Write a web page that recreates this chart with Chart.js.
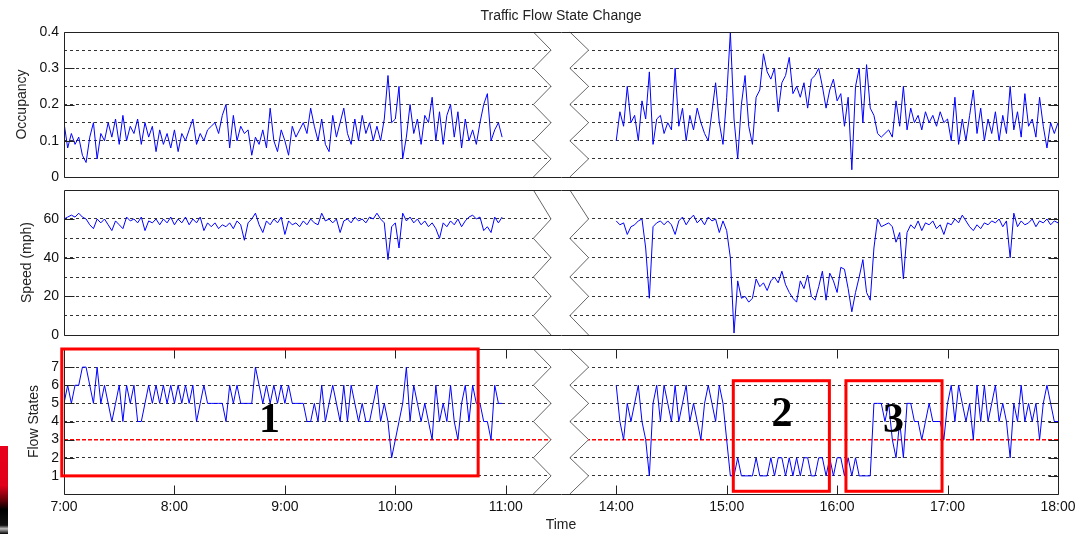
<!DOCTYPE html>
<html lang="en">
  <head>
    <meta charset="UTF-8" />
    <title>Traffic Flow State Change</title>
    <script src="https://cdn.jsdelivr.net/npm/chart.js"></script>
    <style>
      body { margin: 0; background: #fff; }
      .figure { position: relative; width: 1075px; height: 534px; overflow: hidden; }
      .figure canvas { position: absolute; left: 0; }
      .edge-strip {
        position: absolute; left: 0; top: 446px; width: 8px; height: 88px;
        background: linear-gradient(#e8001c 0%, #e0001a 45%, #600008 62%, #000 72%, #111 90%, #bbb 94%, #000 100%);
      }
    </style>
  </head>
  <body>
    <div class="figure">
      <div class="edge-strip"></div>
      <canvas id="occupancyChart" width="1075" height="187" style="top: 0px"></canvas>
      <canvas id="speedChart" width="1075" height="165" style="top: 180px"></canvas>
      <canvas id="flowChart" width="1075" height="195" style="top: 339px"></canvas>
    </div>

    <script>
      // Time axis: 7:00-11:00 and 14:00-18:00, the lunch gap squeezed into one hour
      const hourLabels = ["7:00", "8:00", "9:00", "10:00", "11:00", "14:00", "15:00", "16:00", "17:00", "18:00"];
      const amStart = 7 * 60;
      const pmStart = 14 * 60;
      const stepMinutes = 2;

      // Occupancy (fraction), one sample every 2 minutes
      const occupancyAm = [
        0.15, 0.08, 0.12, 0.09, 0.11, 0.06, 0.04, 0.11, 0.15, 0.05,
        0.12, 0.10, 0.15, 0.11, 0.16, 0.09, 0.17, 0.10, 0.14, 0.12,
        0.16, 0.09, 0.15, 0.11, 0.14, 0.07, 0.13, 0.09, 0.12, 0.08,
        0.13, 0.07, 0.12, 0.10, 0.13, 0.16, 0.09, 0.12, 0.10, 0.13,
        0.14, 0.15, 0.12, 0.17, 0.20, 0.08, 0.17, 0.10, 0.14, 0.12,
        0.13, 0.06, 0.11, 0.09, 0.13, 0.08, 0.19, 0.10, 0.07, 0.13,
        0.10, 0.06, 0.14, 0.11, 0.13, 0.15, 0.12, 0.19, 0.14, 0.10,
        0.16, 0.09, 0.07, 0.17, 0.11, 0.15, 0.19, 0.12, 0.09, 0.16,
        0.10, 0.17, 0.12, 0.15, 0.10, 0.14, 0.10, 0.16, 0.28, 0.15,
        0.16, 0.25, 0.05, 0.11, 0.20, 0.12, 0.16, 0.09, 0.17, 0.15,
        0.22, 0.10, 0.18, 0.09, 0.17, 0.20, 0.11, 0.18, 0.08, 0.16,
        0.10, 0.13, 0.09, 0.15, 0.20, 0.23, 0.10, 0.13, 0.15, 0.11,
      ];
      const occupancyPm = [
        0.10, 0.18, 0.14, 0.25, 0.15, 0.17, 0.10, 0.21, 0.16, 0.29,
        0.09, 0.16, 0.17, 0.12, 0.15, 0.13, 0.30, 0.14, 0.19, 0.10,
        0.17, 0.13, 0.19, 0.15, 0.12, 0.10, 0.18, 0.26, 0.15, 0.09,
        0.22, 0.40, 0.16, 0.05, 0.20, 0.28, 0.14, 0.09, 0.22, 0.24,
        0.34, 0.29, 0.27, 0.30, 0.18, 0.26, 0.28, 0.33, 0.23, 0.25,
        0.22, 0.26, 0.19, 0.27, 0.28, 0.30, 0.25, 0.19, 0.24, 0.27,
        0.21, 0.23, 0.14, 0.22, 0.02, 0.25, 0.30, 0.15, 0.31, 0.19,
        0.17, 0.12, 0.11, 0.12, 0.13, 0.11, 0.21, 0.14, 0.25, 0.13,
        0.19, 0.15, 0.17, 0.13, 0.18, 0.15, 0.17, 0.14, 0.18, 0.15,
        0.16, 0.10, 0.22, 0.09, 0.16, 0.10, 0.17, 0.24, 0.12, 0.19,
        0.10, 0.16, 0.12, 0.18, 0.10, 0.17, 0.12, 0.25, 0.13, 0.18,
        0.11, 0.23, 0.14, 0.16, 0.11, 0.22, 0.14, 0.08, 0.15, 0.12,
        0.15,
      ];

      // Speed (mph)
      const speedAm = [
        60, 61, 62, 61, 63, 61, 60, 57, 55, 60,
        58, 60, 57, 54, 59, 57, 55, 61, 59, 60,
        58, 61, 54, 59, 58, 60, 57, 60, 58, 61,
        57, 60, 58, 61, 57, 60, 58, 61, 54, 58,
        56, 58, 55, 57, 56, 58, 55, 59, 57, 49,
        58, 60, 63, 57, 53, 59, 57, 60, 58, 61,
        52, 59, 57, 58, 56, 59, 57, 60, 58, 57,
        63, 59, 60, 58, 60, 53, 59, 60, 58, 61,
        59, 60, 58, 61, 60, 63, 60, 58, 39, 56,
        58, 45, 63, 59, 61, 58, 60, 57, 59, 56,
        58, 55, 50, 58, 56, 59, 57, 60, 56, 59,
        61, 62, 60, 61, 54, 56, 53, 61, 58, 61,
      ];
      const speedPm = [
        59, 57, 58, 52, 56, 57, 59, 60, 45, 19,
        56, 58, 59, 57, 59, 57, 52, 59, 61, 57,
        60, 62, 58, 60, 57, 61, 59, 60, 53, 59,
        54, 40, 1, 28, 19, 20, 17, 19, 29, 25,
        27, 23, 28, 30, 27, 33, 26, 22, 19, 17,
        28, 24, 31, 20, 18, 25, 33, 18, 32, 28,
        22, 35, 34, 24, 12, 22, 30, 39, 22, 18,
        45, 60, 56, 57, 58, 56, 48, 53, 29, 53,
        57, 55, 59, 54, 58, 57, 59, 55, 57, 52,
        58, 57, 60, 58, 62, 59, 56, 54, 57, 55,
        58, 57, 59, 58, 60, 56, 59, 40, 63, 56,
        59, 57, 58, 60, 56, 59, 58, 60, 57, 59,
        58,
      ];

      // Flow state (1 = congested ... 7 = free flow)
      const flowAm = [
        5, 6, 5, 6, 6, 7, 7, 6, 5, 7,
        5, 6, 5, 4, 5, 6, 4, 6, 5, 6,
        4, 4, 5, 6, 5, 6, 5, 6, 5, 6,
        5, 6, 5, 6, 5, 6, 4, 5, 6, 5,
        5, 5, 5, 5, 4, 6, 5, 6, 5, 5,
        5, 5, 7, 6, 5, 6, 5, 6, 5, 6,
        5, 6, 5, 5, 5, 5, 4, 4, 5, 4,
        6, 4, 5, 6, 5, 4, 6, 4, 6, 5,
        4, 5, 4, 4, 5, 6, 4, 5, 4, 2,
        3, 4, 5, 7, 4, 6, 5, 4, 5, 4,
        3, 6, 4, 5, 4, 6, 4, 3, 5, 6,
        4, 6, 5, 5, 4, 4, 3, 6, 5, 5,
      ];
      const flowPm = [
        6, 4, 3, 5, 4, 5, 6, 4, 3, 1,
        5, 6, 4, 6, 5, 4, 6, 4, 5, 6,
        4, 5, 4, 3, 5, 6, 5, 4, 6, 5,
        3, 1, 1, 2, 1, 1, 1, 1, 2, 1,
        1, 1, 2, 1, 2, 2, 1, 2, 1, 2,
        1, 2, 2, 1, 1, 2, 2, 1, 2, 1,
        2, 2, 1, 2, 1, 2, 1, 1, 1, 1,
        5, 5, 5, 4, 5, 3, 2, 4, 2, 5,
        5, 4, 4, 3, 4, 5, 4, 4, 4, 3,
        5, 6, 4, 6, 5, 4, 5, 3, 6, 4,
        6, 4, 5, 6, 4, 5, 4, 2, 5, 4,
        6, 4, 5, 4, 5, 3, 5, 6, 5, 4,
        4,
      ];

      // Labelled y ticks of each panel
      const occupancyTicks = [0, 0.1, 0.2, 0.3, 0.4];
      const speedTicks = [0, 20, 40, 60];
      const flowTicks = [1, 2, 3, 4, 5, 6, 7];
      const flowThreshold = 3;

      // Boxed periods on the flow state panel (x in axis hours, y in states)
      const regions = [
        { label: "1", x0: -0.02, x1: 3.75, y0: 1, y1: 8, tx: 1.86, ty: 4.0 },
        { label: "2", x0: 6.06, x1: 6.93, y0: 0.15, y1: 6.25, tx: 6.5, ty: 4.35 },
        { label: "3", x0: 7.08, x1: 7.95, y0: 0.15, y1: 6.25, tx: 7.51, ty: 4.0 },
      ];

      // where the axis break marks sit (axis hours)
      const breakLeft = [4.25, 4.41];
      const breakRight = [4.58, 4.75];

      Chart.defaults.font.family = "'Liberation Sans', Arial, sans-serif";
      Chart.defaults.font.size = 14;
      Chart.defaults.color = "#111";

      function axisHour(minutes) {
        return minutes <= 11 * 60 ? (minutes - amStart) / 60 : (minutes - pmStart) / 60 + 5;
      }

      function toPoints(values, start) {
        return values.map((v, i) => ({ x: axisHour(start + i * stepMinutes), y: v }));
      }

      function sameValue(a, b) {
        return Math.abs(a - b) < 1e-9;
      }

      // MATLAB style box: axis break, frame, inward ticks, annotations
      const framePlugin = {
        id: "frame",
        afterDatasetsDraw(chart, args, opts) {
          const { ctx, chartArea: a, scales } = chart;
          const x = scales.x;
          const y = scales.y;
          const levels = y.ticks.map((t) => y.getPixelForValue(t.value)).sort((p, q) => p - q);
          const zig = (xs) => levels.map((py, k) => [x.getPixelForValue(xs[k % 2]), py]);
          const lz = zig(breakLeft);
          const rz = zig(breakRight);

          ctx.save();
          ctx.fillStyle = "#fff";
          ctx.beginPath();
          lz.forEach(([px, py], k) => (k ? ctx.lineTo(px, py) : ctx.moveTo(px, py)));
          rz.slice().reverse().forEach(([px, py]) => ctx.lineTo(px, py));
          ctx.closePath();
          ctx.fill();

          ctx.strokeStyle = "#666";
          ctx.lineWidth = 1;
          [lz, rz].forEach((z) => {
            ctx.beginPath();
            z.forEach(([px, py], k) => (k ? ctx.lineTo(px, py) : ctx.moveTo(px, py)));
            ctx.stroke();
          });

          const L = Math.round(a.left) + 0.5;
          const R = Math.round(a.right) + 0.5;
          const T = Math.round(a.top) + 0.5;
          const B = Math.round(a.bottom) + 0.5;
          ctx.strokeStyle = "#222";
          ctx.beginPath();
          ctx.rect(L, T, R - L, B - T);
          (opts.yTicks || []).forEach((v) => {
            const py = Math.round(y.getPixelForValue(v)) + 0.5;
            ctx.moveTo(L, py);
            ctx.lineTo(L + 10, py);
            ctx.moveTo(R - 10, py);
            ctx.lineTo(R, py);
          });
          if (opts.xTicks) {
            hourLabels.forEach((_, i) => {
              const px = Math.round(x.getPixelForValue(i)) + 0.5;
              ctx.moveTo(px, T);
              ctx.lineTo(px, T + 9);
              ctx.moveTo(px, B - 9);
              ctx.lineTo(px, B);
            });
          }
          ctx.stroke();

          (opts.regions || []).forEach((r) => {
            const x0 = x.getPixelForValue(r.x0);
            const x1 = x.getPixelForValue(r.x1);
            const y0 = y.getPixelForValue(r.y0);
            const y1 = y.getPixelForValue(r.y1);
            ctx.strokeStyle = "#ff0000";
            ctx.lineWidth = 3;
            ctx.strokeRect(x0, y1, x1 - x0, y0 - y1);
            ctx.fillStyle = "#000";
            ctx.font = "bold 42px 'Liberation Serif', 'DejaVu Serif', serif";
            ctx.textAlign = "center";
            ctx.textBaseline = "middle";
            ctx.fillText(r.label, x.getPixelForValue(r.tx), y.getPixelForValue(r.ty));
          });
          ctx.restore();
        },
      };

      function lineSet(data) {
        return {
          data,
          borderColor: "#0000ff",
          borderWidth: 1,
          pointRadius: 0,
          tension: 0,
          fill: false,
        };
      }

      // red dash line marking the congestion threshold, drawn behind the trace
      function thresholdSet(level) {
        return {
          data: [
            { x: 0, y: level },
            { x: hourLabels.length - 1, y: level },
          ],
          borderColor: "#ff0000",
          borderWidth: 1.5,
          borderDash: [4, 2],
          pointRadius: 0,
          fill: false,
        };
      }

      function makePanel(id, cfg) {
        const yScale = {
          min: cfg.min,
          max: cfg.max,
          afterFit: (s) => {
            s.width = 64;
            s.paddingTop = 0;
            s.paddingBottom = 0;
          },
          ticks: {
            stepSize: cfg.step,
            padding: 5,
            autoSkip: false,
            callback: (v) => {
              const hit = cfg.labels.find((t) => sameValue(t, v));
              return hit === undefined ? "" : String(hit);
            },
          },
          grid: {
            drawTicks: false,
            lineWidth: 1,
            color: (c) => {
              const v = c.tick ? c.tick.value : cfg.min;
              if (sameValue(v, cfg.min) || sameValue(v, cfg.max)) return "rgba(0,0,0,0)";
              if (cfg.threshold !== undefined && sameValue(v, cfg.threshold)) return "rgba(0,0,0,0)";
              return "#333";
            },
          },
          border: { display: false, dash: [3, 3] },
          title: {
            display: true,
            text: cfg.title,
            color: "#222",
            padding: { top: cfg.titleOffset, bottom: 0 },
          },
        };

        const xScale = {
          type: "linear",
          min: 0,
          max: 9,
          display: cfg.showTime,
          afterFit: (s) => {
            if (!cfg.showTime) return;
            s.height = 40;
            s.paddingLeft = 0;
            s.paddingRight = 0;
          },
          ticks: {
            stepSize: 1,
            padding: 5,
            maxRotation: 0,
            autoSkip: false,
            callback: (v) => hourLabels[Math.round(v)] || "",
          },
          grid: { display: false, drawTicks: false },
          border: { display: false },
          title: {
            display: true,
            text: "Time",
            color: "#222",
            padding: { top: 0, bottom: 0 },
          },
        };

        const datasets = [lineSet(toPoints(cfg.am, amStart)), lineSet(toPoints(cfg.pm, pmStart))];
        if (cfg.threshold !== undefined) datasets.push(thresholdSet(cfg.threshold));

        return new Chart(document.getElementById(id), {
          type: "line",
          data: { datasets },
          options: {
            responsive: false,
            animation: false,
            layout: { padding: cfg.padding },
            scales: { x: xScale, y: yScale },
            plugins: {
              legend: { display: false },
              tooltip: { enabled: false },
              title: cfg.chartTitle
                ? {
                    display: true,
                    text: cfg.chartTitle,
                    fullSize: false,
                    color: "#222",
                    font: { size: 14, weight: "normal" },
                    padding: { top: 7.6, bottom: 7.6 },
                  }
                : { display: false },
              frame: { yTicks: cfg.labels, xTicks: cfg.showTime, regions: cfg.regions },
            },
          },
          plugins: [framePlugin],
        });
      }

      makePanel("occupancyChart", {
        am: occupancyAm,
        pm: occupancyPm,
        min: 0,
        max: 0.4,
        step: 0.05,
        labels: occupancyTicks,
        title: "Occupancy",
        titleOffset: 14,
        chartTitle: "Traffic Flow State Change",
        showTime: false,
        padding: { left: 0, right: 17, top: 0, bottom: 10 },
      });

      makePanel("speedChart", {
        am: speedAm,
        pm: speedPm,
        min: 0,
        max: 75,
        step: 10,
        labels: speedTicks,
        title: "Speed (mph)",
        titleOffset: 19,
        showTime: false,
        padding: { left: 0, right: 17, top: 10, bottom: 10 },
      });

      makePanel("flowChart", {
        am: flowAm,
        pm: flowPm,
        min: 0,
        max: 8,
        step: 1,
        labels: flowTicks,
        threshold: flowThreshold,
        regions: regions,
        title: "Flow States",
        titleOffset: 26,
        showTime: true,
        padding: { left: 0, right: 17, top: 10, bottom: 0 },
      });
    </script>
  </body>
</html>
